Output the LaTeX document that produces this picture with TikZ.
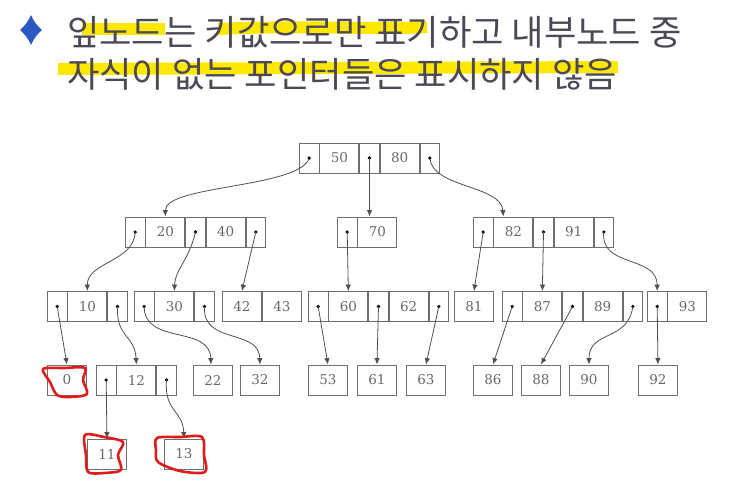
\documentclass[tikz,border=0pt]{standalone}
\usepackage{fontspec}
\setmainfont{DejaVu Serif}
\newfontfamily\kr{Noto Sans CJK KR}
\usetikzlibrary{arrows.meta}
\definecolor{txt}{HTML}{4D4856}
\definecolor{boxc}{HTML}{6E6E6E}
\definecolor{keyc}{HTML}{6A6672}
\definecolor{linec}{HTML}{505050}
\definecolor{hl}{HTML}{FFE800}
\definecolor{dia}{HTML}{2B57C5}
\definecolor{redm}{HTML}{E01B1B}
\tikzset{
 cell/.style={draw=boxc, line width=0.9pt, minimum height=30pt, inner sep=0pt,
   font=\fontsize{13.5}{13.5}\selectfont, text=keyc},
 ptr/.style={cell, minimum width=19.5pt, anchor=west,
   path picture={\fill[black] (path picture bounding box.center) circle (1.8pt);}},
 key/.style={cell, minimum width=39pt, anchor=west},
 link/.style={draw=linec, line width=0.8pt, -{Latex[length=6.5pt,width=5.5pt]}},
 redring/.style={draw=redm, line width=2.6pt, line join=round},
 hlstroke/.style={draw=hl, line width=12pt},
 titletext/.style={font=\kr\fontsize{35.2}{35.2}\selectfont, text=txt, inner sep=0pt, anchor=base west},
}
\begin{document}
\begin{tikzpicture}[x=1pt,y=-1pt]
\useasboundingbox (0,0) rectangle (732,493);
\fill[white] (0,0) rectangle (732,493);

% title
\fill[dia] (31,15) to[bend right=12] (42,30) to[bend right=12] (31,45) to[bend right=12] (20,30) to[bend right=12] cycle;
\draw[hlstroke] (82,29) -- (165,29);
\draw[hlstroke] (218,29) .. controls (300,25) and (380,30) .. (427,27);
\draw[hlstroke] (58,69) -- (618,67);
\node[titletext] (t1) at (67,45) {잎노드는 키값으로만 표기하고 내부노드 중};
\node[titletext] (t2) at (67,87) {자식이 없는 포인터들은 표시하지 않음};

% level 1
\node[ptr] (r0) at (299,158) {};
\node[key] (r1) at (r0.east) {50};
\node[ptr] (r2) at (r1.east) {};
\node[key] (r3) at (r2.east) {80};
\node[ptr] (r4) at (r3.east) {};

% level 2
\node[ptr] (a0) at (125,232) {};
\node[key] (a1) at (a0.east) {20};
\node[ptr] (a2) at (a1.east) {};
\node[key] (a3) at (a2.east) {40};
\node[ptr] (a4) at (a3.east) {};

\node[ptr] (b0) at (337,232) {};
\node[key] (b1) at (b0.east) {70};

\node[ptr] (c0) at (473,232) {};
\node[key] (c1) at (c0.east) {82};
\node[ptr] (c2) at (c1.east) {};
\node[key] (c3) at (c2.east) {91};
\node[ptr] (c4) at (c3.east) {};

% level 3
\node[ptr] (d0) at (47,306.5) {};
\node[key] (d1) at (d0.east) {10};
\node[ptr] (d2) at (d1.east) {};

\node[ptr] (e0) at (134,306.5) {};
\node[key] (e1) at (e0.east) {30};
\node[ptr] (e2) at (e1.east) {};

\node[key] (f0) at (222,306.5) {42};
\node[key] (f1) at (f0.east) {43};

\node[ptr] (g0) at (308,306.5) {};
\node[key] (g1) at (g0.east) {60};
\node[ptr] (g2) at (g1.east) {};
\node[key] (g3) at (g2.east) {62};
\node[ptr] (g4) at (g3.east) {};

\node[key] (h) at (454,306.5) {81};

\node[ptr] (i0) at (502,306.5) {};
\node[key] (i1) at (i0.east) {87};
\node[ptr] (i2) at (i1.east) {};
\node[key] (i3) at (i2.east) {89};
\node[ptr] (i4) at (i3.east) {};

\node[ptr] (j0) at (647,306.5) {};
\node[key] (j1) at (j0.east) {93};

% level 4
\node[key] (k) at (47,380) {0};
\node[ptr] (l0) at (96,380) {};
\node[key] (l1) at (l0.east) {12};
\node[ptr] (l2) at (l1.east) {};
\node[key] (m) at (193,380) {22};
\node[key] (n) at (240,380) {32};
\node[key] (o) at (308,380) {53};
\node[key] (p) at (357,380) {61};
\node[key] (q) at (406,380) {63};
\node[key] (s) at (473,380) {86};
\node[key] (t) at (521,380) {88};
\node[key] (u) at (569,380) {90};
\node[key] (v) at (638,380) {92};

% level 5
\node[key] (w) at (87,454) {11};
\node[key] (z) at (164,454) {13};

% links
\draw[link] (r0.center) .. controls (300,188) and (165,185) .. (a1.north);
\draw[link] (r2.center) -- (r2.center |- b1.north);
\draw[link] (r4.center) .. controls (432,188) and (501,185) .. ([xshift=-10pt]c1.north);

\draw[link] (a0.center) .. controls (134,262) and (87,262) .. (d1.north);
\draw[link] (a2.center) .. controls (189,260) and (175,270) .. (e1.north);
\draw[link] (a4.center) -- (f0.north);
\draw[link] (b0.center) -- (g1.north);
\draw[link] (c0.center) -- (h.north);
\draw[link] (c2.center) -- (i1.north);
\draw[link] (c4.center) .. controls (600,268) and (657,255) .. (j0.north);

\draw[link] (d0.center) -- (k.north);
\draw[link] (d2.center) .. controls (116,338) and (135,335) .. (l1.north);
\draw[link] (e0.center) .. controls (144,345) and (210,325) .. ([xshift=-2pt]m.north);
\draw[link] (e2.center) .. controls (202,345) and (259,328) .. (n.north);
\draw[link] (g0.center) -- (o.north);
\draw[link] (g2.center) -- (p.north);
\draw[link] (g4.center) -- (q.north);
\draw[link] (i0.center) -- (s.north);
\draw[link] (i2.center) -- (t.north);
\draw[link] (i4.center) .. controls (628,342) and (589,330) .. (u.north);
\draw[link] (j0.center) -- (v.north);
\draw[link] (l0.center) -- (w.north);
\draw[link] (l2.center) .. controls (164,412) and (183,410) .. (z.north);

% red hand marks
\draw[redring] plot[smooth cycle, tension=0.5] coordinates {(43,369) (64,368) (85,368) (83,380) (87,394) (70,397) (57,395) (50,382)};
\draw[redring] plot[smooth cycle, tension=0.5] coordinates {(85,435) (104,437) (123,442) (118,455) (121,470) (104,473) (88,472) (86,455)};
\draw[redring] plot[smooth cycle, tension=0.5] coordinates {(157,438) (180,437) (202,437) (204,455) (205,472) (180,471) (158,462) (156,450)};
\end{tikzpicture}
\end{document}
